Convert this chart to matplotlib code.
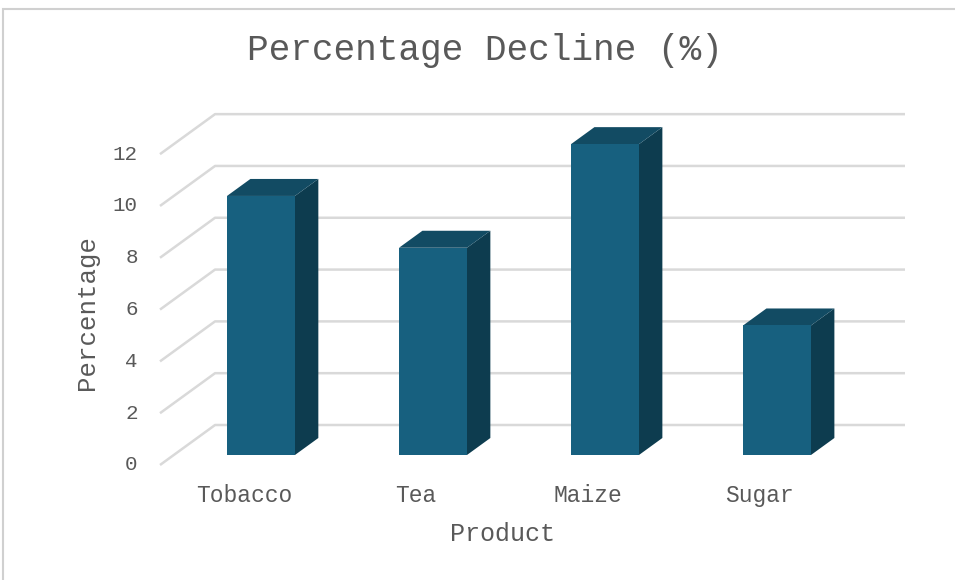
import matplotlib
matplotlib.use("Agg")
import matplotlib.pyplot as plt
from matplotlib.patches import Polygon, Rectangle

products = ["Tobacco", "Tea", "Maize", "Sugar"]
decline = [10, 8, 12, 5]
y_ticks = [0, 2, 4, 6, 8, 10, 12]

# oblique projection: depth d in [0, 1] (front of floor -> back wall)
DEPTH_X = 0.32
DEPTH_Y = 1.544
BAR_W = 0.395
BAR_D0, BAR_D1 = 0.25, 0.675

FRONT = "#17607f"
TOP = "#124b63"
SIDE = "#0d3c4f"
GRID = "#d9d9d9"
TEXT = "#595959"
FONT = ["Liberation Mono", "DejaVu Sans Mono"]


def proj(x, v, d):
    return (x + DEPTH_X * d, v + DEPTH_Y * d)


fig = plt.figure(figsize=(9.55, 5.8), dpi=100)
# chart border (partially cropped in reference)
fig.patches.append(Rectangle((3 / 955, -0.1), 1.2, 1 - 9 / 580 + 0.1,
                             transform=fig.transFigure, fill=False,
                             edgecolor="#d0d0d0", lw=1.5))

x_left, x_right = -0.507, 3.824
y_bot, y_top = 0.0, 14.09
ax = fig.add_axes([160 / 955, 1 - 465 / 580, (905 - 160) / 955, (465 - 100) / 580])
ax.set_xlim(x_left, x_right)
ax.set_ylim(y_bot, y_top)
ax.axis("off")

# gridlines: floor diagonal + back wall line
for v in y_ticks:
    p0 = (x_left, v)
    p1 = proj(x_left, v, 1)
    p2 = (x_right, p1[1])
    ax.plot([p0[0], p1[0], p2[0]], [p0[1], p1[1], p2[1]], color=GRID, lw=1.8,
            solid_capstyle="butt", zorder=1, clip_on=False)
    ax.text(x_left - 0.13, v, str(v), ha="right", va="center", fontsize=15,
            color=TEXT, family=FONT)

# bars
for i, val in enumerate(decline):
    l, r = i - BAR_W / 2, i + BAR_W / 2
    front = [proj(l, 0, BAR_D0), proj(r, 0, BAR_D0), proj(r, val, BAR_D0), proj(l, val, BAR_D0)]
    top = [proj(l, val, BAR_D0), proj(r, val, BAR_D0), proj(r, val, BAR_D1), proj(l, val, BAR_D1)]
    side = [proj(r, 0, BAR_D0), proj(r, 0, BAR_D1), proj(r, val, BAR_D1), proj(r, val, BAR_D0)]
    ax.add_patch(Polygon(side, closed=True, facecolor=SIDE, edgecolor="none", zorder=3))
    ax.add_patch(Polygon(top, closed=True, facecolor=TOP, edgecolor="none", zorder=3))
    ax.add_patch(Polygon(front, closed=True, facecolor=FRONT, edgecolor="none", zorder=4))
    ax.text(i - 0.02, -1.18, products[i], ha="center", va="center", fontsize=16.5,
            color=TEXT, family=FONT)

fig.text(502 / 955, 1 - 534 / 580, "Product", ha="center", va="center",
         fontsize=18, color=TEXT, family=FONT)
fig.text(87 / 955, 1 - 312 / 580, "Percentage", ha="center", va="center",
         rotation=90, fontsize=18.5, color=TEXT, family=FONT)
fig.text(485 / 955, 1 - 50 / 580, "Percentage Decline (%)", ha="center", va="center",
         fontsize=26, color=TEXT, family=FONT)

fig.savefig("out.png", dpi=100, facecolor="white")
